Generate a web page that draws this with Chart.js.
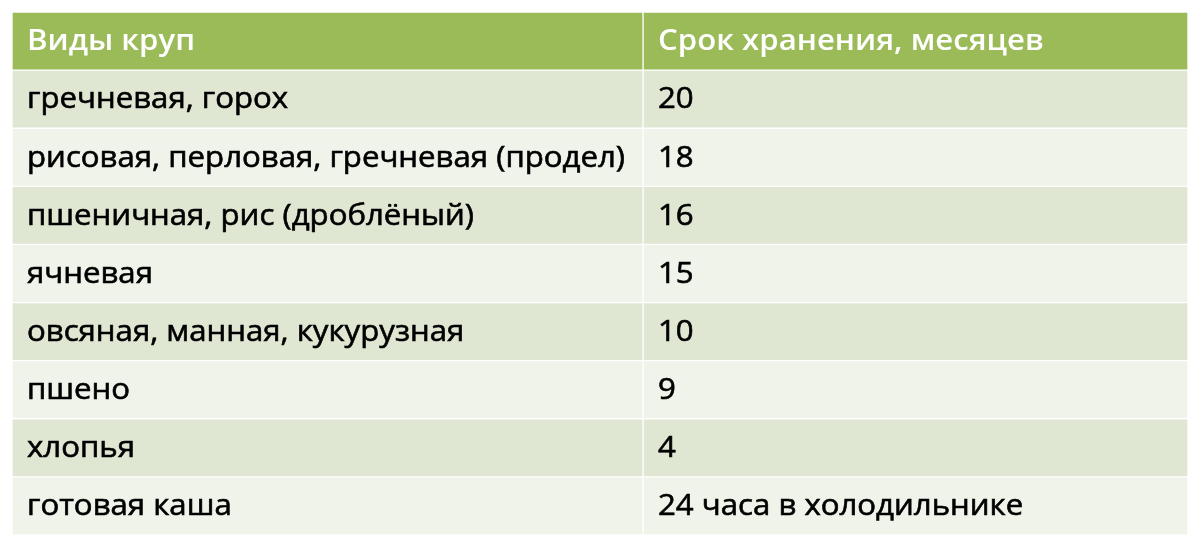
<!DOCTYPE html>
<html><head><meta charset="utf-8">
<script src="https://cdn.jsdelivr.net/npm/chart.js@4/dist/chart.umd.min.js"></script>
<style>html,body{margin:0;background:#fff}#wrap{width:1200px;height:547px}</style>
</head><body><div id="wrap"><canvas id="c"></canvas></div>
<script>
const headers = ['Виды круп', 'Срок хранения, месяцев'];
const grains = ['гречневая, горох', 'рисовая, перловая, гречневая (продел)', 'пшеничная, рис (дроблёный)',
  'ячневая', 'овсяная, манная, кукурузная', 'пшено', 'хлопья', 'готовая каша'];
const shelfLife = ['20', '18', '16', '15', '10', '9', '4', '24 часа в холодильнике'];
const split = 0.5366;

const rows = [headers[0], ...grains];
const rowColors = rows.map((_, i) => i === 0 ? '#9BBB59' : (i % 2 ? '#DFE7D3' : '#EFF3EA'));

const tableText = {
  id: 'tableText',
  afterDatasetsDraw(chart) {
    const { ctx, scales: { x, y } } = chart;
    ctx.save();
    ctx.textBaseline = 'middle';
    const fam = '"Open Sans", sans-serif';
    const size = 29;
    ctx.font = size + 'px ' + fam;
    // stretch so the widest label spans what it spans in the reference
    const sx = 598 / ctx.measureText(grains[1]).width;
    const cols = [x.getPixelForValue(0) + 15, x.getPixelForValue(split) + 15];
    rows.forEach((_, i) => {
      const py = y.getPixelForValue(i) + 1;
      const left = i === 0 ? headers[0] : grains[i - 1];
      const right = i === 0 ? headers[1] : shelfLife[i - 1];
      ctx.font = (i === 0 ? '600 ' : '') + size + 'px ' + fam;
      ctx.fillStyle = i === 0 ? '#ffffff' : '#000000';
      ctx.strokeStyle = ctx.fillStyle;
      ctx.lineWidth = i === 0 ? 0 : 0.6;
      [[left, cols[0]], [right, cols[1]]].forEach(([t, px]) => {
        ctx.save();
        ctx.translate(px, py);
        ctx.scale(sx, 1);
        ctx.fillText(t, 0, 0);
        if (i) ctx.strokeText(t, 0, 0);
        ctx.restore();
      });
    });
    ctx.restore();
  }
};

new Chart(document.getElementById('c'), {
  type: 'bar',
  data: {
    labels: rows,
    datasets: [
      { data: rows.map(() => [0, split]), backgroundColor: rowColors, borderColor: '#ffffff', borderWidth: 1, borderSkipped: false },
      { data: rows.map(() => [split, 1]), backgroundColor: rowColors, borderColor: '#ffffff', borderWidth: 1, borderSkipped: false }
    ]
  },
  options: {
    indexAxis: 'y',
    responsive: true,
    maintainAspectRatio: false,
    animation: false,
    layout: { padding: { left: 12, right: 12, top: 12, bottom: 12 } },
    datasets: { bar: { grouped: false, categoryPercentage: 1, barPercentage: 1 } },
    scales: {
      x: { display: false, min: 0, max: 1 },
      y: { display: false }
    },
    plugins: { legend: { display: false }, tooltip: { enabled: false } }
  },
  plugins: [tableText]
});
</script></body></html>
